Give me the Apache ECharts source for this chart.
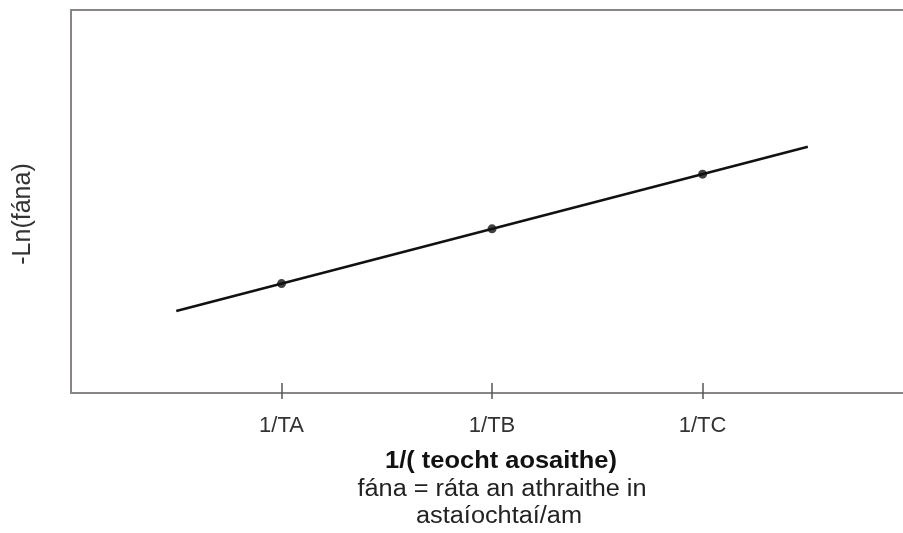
<!DOCTYPE html>
<html>
<head>
<meta charset="utf-8">
<script src="https://cdn.jsdelivr.net/npm/echarts@6/dist/echarts.min.js"></script>
<style>
  html, body { margin: 0; padding: 0; background: #fff; }
  #chart { width: 903px; height: 533px; }
</style>
</head>
<body>
<div id="chart"></div>
<script>
// tick labels on the x axis and where they sit
let tickLabels = ['1/TA', '1/TB', '1/TC']
let tickValues = [1, 2, 3]
// measured points
let pointX = [1, 2, 3]
let pointY = [2, 3, 4]
// ends of the drawn line
let fitX = [0.5, 3.5]
let fitY = [1.5, 4.5]

let FONT = '"Liberation Sans", Arial, sans-serif'
let BORDER = {color: '#8a8585', width: 2}

let points = pointX.map((x, i) => [x, pointY[i]])
let fit = fitX.map((x, i) => [x, fitY[i]])

let option = {
  animation: false,
  grid: {
    left: 71,
    right: 0,
    top: 10,
    bottom: 140
  },
  xAxis: [
    {
      type: 'value',
      min: 0,
      max: 3.952, // box is cut at the right edge
      interval: 1,
      splitLine: {show: false},
      axisLine: {show: true, onZero: false, lineStyle: BORDER},
      axisTick: {
        show: true,
        customValues: tickValues,
        length: 6,
        lineStyle: {color: '#555', width: 1.5}
      },
      axisLabel: {
        customValues: tickValues,
        margin: 22,
        fontFamily: FONT,
        fontSize: 22,
        color: '#333',
        formatter: function (v) {
          let i = tickValues.indexOf(v)
          return i >= 0 ? tickLabels[i] : ''
        }
      }
    },
    {
      // inner half of the crossing ticks
      type: 'value',
      position: 'bottom',
      min: 0,
      max: 3.952,
      interval: 1,
      splitLine: {show: false},
      axisLine: {show: false},
      axisTick: {
        show: true,
        inside: true,
        customValues: tickValues,
        length: 10,
        lineStyle: {color: '#555', width: 1.5}
      },
      axisLabel: {show: false}
    },
    {
      // top edge of the box
      type: 'value',
      position: 'top',
      min: 0,
      max: 3.952,
      splitLine: {show: false},
      axisLine: {show: true, onZero: false, lineStyle: BORDER},
      axisTick: {show: false},
      axisLabel: {show: false}
    }
  ],
  yAxis: {
    type: 'value',
    min: 0,
    max: 7,
    interval: 1,
    splitLine: {show: false},
    axisLine: {show: true, onZero: false, lineStyle: BORDER},
    axisTick: {show: false},
    axisLabel: {show: false}
  },
  graphic: [
    {
      type: 'text',
      x: 23,
      y: 214,
      rotation: Math.PI / 2,
      style: {
        text: '-Ln(fána)',
        fontFamily: FONT,
        fontSize: 25,
        fill: '#333',
        align: 'center',
        verticalAlign: 'middle'
      }
    },
    {
      type: 'text',
      x: 501,
      y: 461,
      scaleX: 1.06,
      style: {
        text: '1/( teocht aosaithe)',
        fontFamily: FONT,
        fontSize: 24,
        fontWeight: 'bold',
        fill: '#111',
        align: 'center',
        verticalAlign: 'middle'
      }
    },
    {
      type: 'text',
      x: 502,
      y: 490,
      scaleX: 1.1,
      style: {
        text: 'fána = ráta an athraithe in',
        fontFamily: FONT,
        fontSize: 23,
        fill: '#222',
        align: 'center',
        verticalAlign: 'middle'
      }
    },
    {
      type: 'text',
      x: 499,
      y: 517,
      scaleX: 1.1,
      style: {
        text: 'astaíochtaí/am',
        fontFamily: FONT,
        fontSize: 23,
        fill: '#222',
        align: 'center',
        verticalAlign: 'middle'
      }
    }
  ],
  series: [
    {
      name: 'line',
      type: 'line',
      data: fit,
      showSymbol: false,
      symbol: 'none',
      lineStyle: {color: '#111', width: 2.5},
      silent: true
    },
    {
      name: 'points',
      type: 'scatter',
      data: points,
      symbol: 'circle',
      symbolSize: 9,
      itemStyle: {color: '#111'},
      silent: true
    }
  ]
}

let myChart = echarts.init(document.getElementById('chart'))
myChart.setOption(option)
</script>
</body>
</html>
